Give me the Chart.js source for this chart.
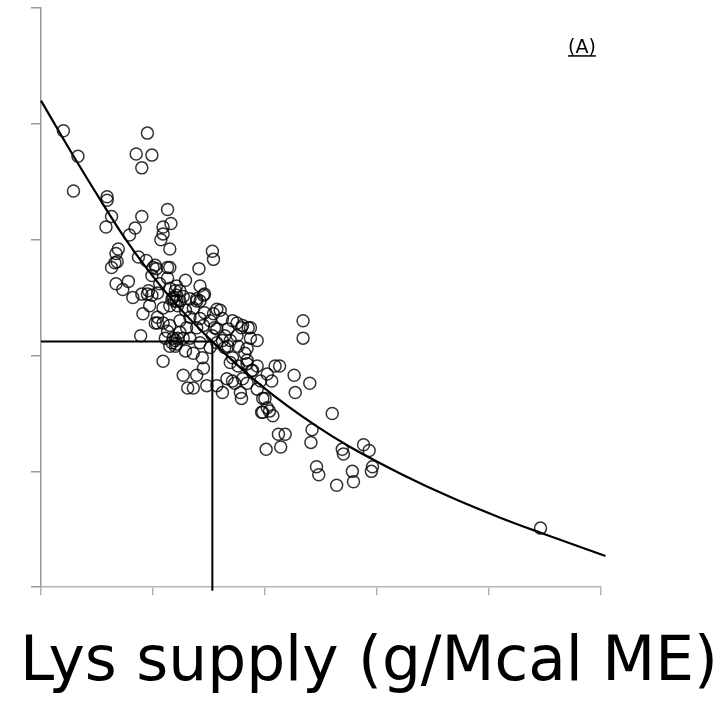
<!DOCTYPE html>
<html>
<head>
<meta charset="utf-8">
<script src="https://cdn.jsdelivr.net/npm/chart.js@4.4.0/dist/chart.umd.min.js"></script>
<style>
  html, body { margin: 0; padding: 0; background: #fff; }
  #wrap { width: 726px; height: 701px; }
</style>
</head>
<body>
<div id="wrap"><canvas id="chart-scatter"></canvas></div>
<script>
// observed points (Lys supply vs response)
var lysSupply = [
  0.20, 0.33, 0.29, 0.95, 0.85, 0.99, 0.90, 0.59, 0.59, 0.63, 0.58, 0.90, 1.13, 1.16, 1.09, 1.09,
  0.84, 0.79, 1.07, 1.15, 0.69, 0.67, 0.68, 0.63, 0.87, 0.94, 1.00, 1.03, 1.15, 0.99, 1.13, 1.53,
  1.54, 1.41, 0.67, 0.78, 0.73, 0.90, 0.96, 0.99, 1.04, 1.15, 1.18, 1.24, 1.33, 1.39, 1.46, 1.57,
  1.60, 1.09, 1.04, 0.91, 1.02, 1.13, 1.20, 1.21, 1.19, 1.22, 1.17, 1.24, 1.15, 1.42, 1.36, 1.33,
  1.42, 1.04, 1.09, 1.15, 1.24, 1.30, 1.39, 1.45, 1.57, 1.71, 1.75, 1.80, 1.87, 1.93, 1.75, 1.69,
  1.64, 1.57, 1.51, 1.42, 1.33, 1.27, 1.20, 1.21, 1.18, 1.15, 1.11, 1.36, 1.44, 1.09, 1.45, 1.27,
  1.31, 1.36, 1.39, 1.57, 1.62, 1.71, 1.76, 1.84, 1.89, 1.96, 2.02, 1.84, 1.78, 1.71, 2.09, 1.87,
  1.84, 1.54, 1.79, 1.85, 1.64, 1.55, 2.34, 2.34, 2.13, 2.06, 2.26, 2.40, 2.27, 1.79, 1.98, 2.02,
  2.04, 1.97, 1.73, 1.66, 1.80, 1.88, 1.93, 1.69, 1.84, 2.60, 1.93, 2.00, 1.98, 2.07, 2.42, 2.41,
  2.12, 2.18, 2.01, 2.14, 2.69, 2.70, 2.88, 2.93, 2.46, 2.48, 2.78, 2.95, 2.96, 2.64, 2.79, 4.46,
  0.89, 1.48, 0.66, 0.95, 1.21, 1.45, 1.39, 1.02, 1.29, 1.46, 1.51, 1.53, 1.62, 1.67, 1.76, 1.82,
  1.29, 1.24, 1.13, 1.20, 1.22, 1.17, 1.27, 1.21, 0.97, 0.82, 1.06, 1.29, 1.42, 1.67, 1.62
];
var response = [
  3.94, 3.72, 3.42, 3.92, 3.74, 3.73, 3.62, 3.37, 3.34, 3.20, 3.11, 3.20, 3.26, 3.14, 3.11, 3.05,
  3.10, 3.04, 3.00, 2.92, 2.92, 2.88, 2.81, 2.76, 2.85, 2.82, 2.76, 2.75, 2.76, 2.69, 2.67, 2.90,
  2.83, 2.75, 2.62, 2.64, 2.57, 2.53, 2.56, 2.52, 2.54, 2.58, 2.50, 2.56, 2.49, 2.47, 2.53, 2.40,
  2.39, 2.41, 2.33, 2.36, 2.78, 2.76, 2.56, 2.52, 2.47, 2.43, 2.49, 2.47, 2.43, 2.47, 2.41, 2.33,
  2.32, 2.28, 2.28, 2.26, 2.30, 2.24, 2.24, 2.26, 2.23, 2.30, 2.28, 2.26, 2.24, 2.13, 2.17, 2.13,
  2.07, 2.11, 2.07, 2.11, 2.15, 2.15, 2.13, 2.10, 2.15, 2.08, 2.15, 2.02, 1.98, 1.95, 1.89, 1.83,
  1.72, 1.72, 1.83, 1.74, 1.68, 1.98, 1.91, 1.93, 1.87, 1.78, 1.84, 1.76, 1.68, 1.78, 1.91, 2.15,
  2.06, 2.36, 2.24, 2.24, 2.17, 2.24, 2.30, 2.15, 1.91, 1.78, 1.83, 1.76, 1.68, 1.63, 1.63, 1.55,
  1.52, 1.51, 1.76, 1.80, 1.80, 1.87, 1.91, 1.94, 1.96, 1.50, 1.71, 1.63, 1.51, 1.48, 1.36, 1.25,
  1.32, 1.32, 1.19, 1.21, 1.19, 1.15, 1.23, 1.18, 1.04, 0.97, 1.00, 1.00, 1.04, 0.88, 0.91, 0.51,
  2.17, 1.74, 2.80, 2.53, 2.47, 2.52, 2.49, 2.28, 2.39, 2.37, 2.30, 2.17, 2.13, 2.08, 2.08, 2.02,
  2.04, 2.20, 2.21, 2.08, 2.15, 2.11, 2.51, 2.60, 2.43, 2.50, 2.62, 2.65, 2.60, 2.23, 2.32
];

// fitted curve
var curveX = [0, 0.23, 0.50, 0.73, 0.93, 1.20, 1.53, 1.98, 2.46, 2.76, 3.21, 3.65, 4.10, 4.46, 5.04];
var curveY = [4.20, 3.82, 3.39, 3.04, 2.77, 2.45, 2.12, 1.73, 1.39, 1.21, 0.98, 0.78, 0.60, 0.47, 0.27];

// requirement lines (drop lines to both axes)
var refX = [0, 1.53, 1.53];
var refY = [2.12, 2.12, -0.03];

var xTitle = "Lys supply (g/Mcal ME)";
var panelText = "(A)";
var panelPos = [4.83, 4.61];

function pairs(xs, ys) {
  return xs.map(function (v, i) { return { x: v, y: ys[i] }; });
}

var panelLabel = {
  id: 'panelLabel',
  afterDraw: function (chart) {
    var ctx = chart.ctx;
    var px = chart.scales.x.getPixelForValue(panelPos[0]);
    var py = chart.scales.y.getPixelForValue(panelPos[1]);
    ctx.save();
    ctx.font = '19px "DejaVu Sans"';
    ctx.textAlign = 'center';
    ctx.textBaseline = 'alphabetic';
    ctx.fillStyle = '#000';
    ctx.fillText(panelText, px, py);
    var w = ctx.measureText(panelText).width;
    ctx.fillRect(px - w / 2, py + 2, w, 1.5);
    ctx.restore();
  }
};

var ctx = document.getElementById("chart-scatter").getContext("2d");

new Chart(ctx, {
  type: "scatter",
  data: {
    datasets: [
      {
        label: "fit",
        data: pairs(curveX, curveY),
        showLine: true,
        cubicInterpolationMode: 'monotone',
        borderColor: "#000",
        borderWidth: 2.2,
        pointRadius: 0,
        clip: false,
        order: 0
      },
      {
        label: "requirement",
        data: pairs(refX, refY),
        showLine: true,
        tension: 0,
        borderColor: "#000",
        borderWidth: 2,
        pointRadius: 0,
        clip: false,
        order: 1
      },
      {
        label: "observed",
        data: pairs(lysSupply, response),
        pointStyle: 'circle',
        pointRadius: 6,
        borderWidth: 1.5,
        borderColor: "rgba(0,0,0,0.8)",
        backgroundColor: "rgba(0,0,0,0)",
        order: 2
      }
    ]
  },
  options: {
    responsive: true,
    maintainAspectRatio: false,
    animation: false,
    layout: {
      padding: { left: 20, right: 8, top: 8, bottom: 0 }
    },
    plugins: {
      legend: { display: false },
      tooltip: { enabled: false },
      title: {
        display: true,
        position: 'bottom',
        text: xTitle,
        color: '#000',
        font: { family: "DejaVu Sans", size: 61.5, weight: 'normal', lineHeight: 1.2 },
        padding: { top: 32, bottom: 0 }
      }
    },
    scales: {
      x: {
        type: 'linear',
        min: 0,
        max: 5,
        ticks: { display: false, stepSize: 1 },
        grid: {
          display: true,
          drawOnChartArea: false,
          drawTicks: true,
          tickLength: 8,
          color: '#b4b4b4',
          lineWidth: 1.5
        },
        border: { display: true, color: '#b4b4b4', width: 1.5 }
      },
      y: {
        type: 'linear',
        min: 0,
        max: 5,
        ticks: { display: false, stepSize: 1 },
        grid: {
          display: true,
          drawOnChartArea: false,
          drawTicks: true,
          tickLength: 10,
          color: '#999',
          lineWidth: 1.5
        },
        border: { display: true, color: '#999', width: 1.5 },
        afterFit: function (scale) { scale.width = 21; }
      },
      yRight: {
        type: 'linear',
        position: 'right',
        display: true,
        ticks: { display: false },
        grid: { display: false, drawTicks: false },
        border: { display: false },
        afterFit: function (scale) { scale.width = 117; }
      }
    }
  },
  plugins: [panelLabel]
});
</script>
</body>
</html>
